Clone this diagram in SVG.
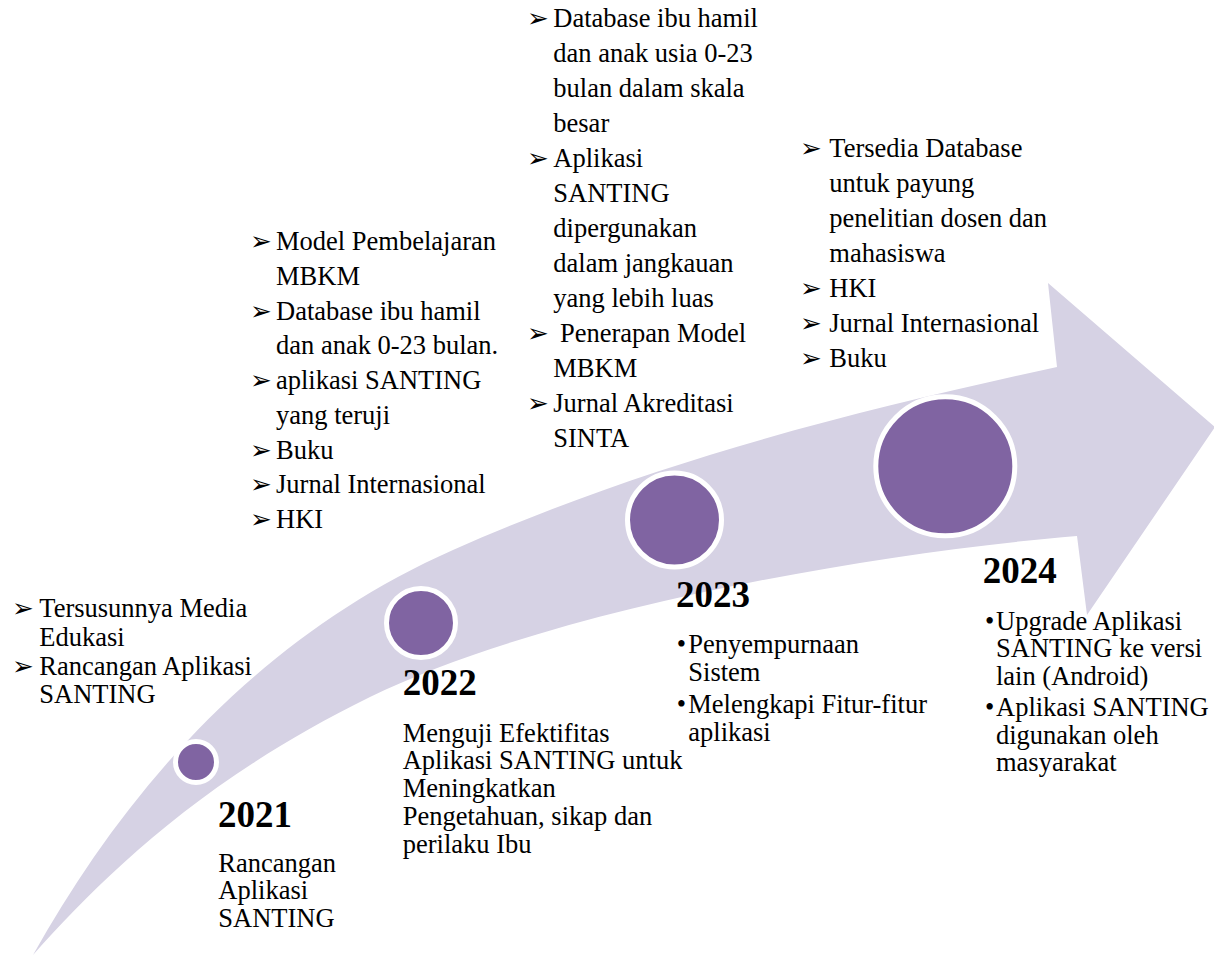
<svg xmlns="http://www.w3.org/2000/svg" width="1214" height="955" viewBox="0 0 1214 955">
<style>
.t{font-family:"Liberation Serif","Times New Roman",serif;font-size:26.5px;fill:#000}
.y{font-family:"Liberation Serif","Times New Roman",serif;font-size:37px;font-weight:bold;fill:#000}
.b{font-family:"DejaVu Sans",sans-serif;font-size:26px}
.c{fill:#8064A2;stroke:#ffffff;stroke-width:5}
</style>
<rect width="1214" height="955" fill="#ffffff"/>
<g id="arrow">
<path d="M33,955 C120,800 250,640 453,550 S860,410 1057,367 L1048,283 L1215,427 L1087,615 L1077,536 C850,555 540,614 370,697 C200,780 100,880 33,955 Z" fill="#D6D2E4"/>
</g>
<g id="connectors"></g>
<g id="m2021">
<circle class="c" cx="196" cy="762" r="20.5"/>
<text class="y" x="218" y="826.7">2021</text>
<text class="t"><tspan x="218.3" y="871.7">Rancangan</tspan><tspan x="218.3" y="899.2">Aplikasi</tspan><tspan x="218.3" y="926.7">SANTING</tspan></text>
<text class="t"><tspan class="b" x="12" y="617.3">➢</tspan><tspan x="39.3" y="617.3">Tersusunnya Media</tspan><tspan x="39.3" y="645.9">Edukasi</tspan><tspan class="b" x="12" y="674.6">➢</tspan><tspan x="39.3" y="674.6">Rancangan Aplikasi</tspan><tspan x="39.3" y="703.3">SANTING</tspan></text>
</g>
<g id="m2022">
<circle class="c" cx="421" cy="623" r="34.5"/>
<text class="y" x="402.7" y="695">2022</text>
<text class="t"><tspan x="402.7" y="741.7">Menguji Efektifitas</tspan><tspan x="402.7" y="769.4">Aplikasi SANTING untuk</tspan><tspan x="402.7" y="797.1">Meningkatkan</tspan><tspan x="402.7" y="824.8">Pengetahuan, sikap dan</tspan><tspan x="402.7" y="852.5">perilaku Ibu</tspan></text>
<text class="t"><tspan class="b" x="250" y="250">➢</tspan><tspan x="276" y="250">Model Pembelajaran</tspan><tspan x="276" y="284.75">MBKM</tspan><tspan class="b" x="250" y="319.5">➢</tspan><tspan x="276" y="319.5">Database ibu hamil</tspan><tspan x="276" y="354.25">dan anak 0-23 bulan.</tspan><tspan class="b" x="250" y="389">➢</tspan><tspan x="276" y="389">aplikasi SANTING</tspan><tspan x="276" y="423.75">yang teruji</tspan><tspan class="b" x="250" y="458.5">➢</tspan><tspan x="276" y="458.5">Buku</tspan><tspan class="b" x="250" y="493.25">➢</tspan><tspan x="276" y="493.25">Jurnal Internasional</tspan><tspan class="b" x="250" y="528">➢</tspan><tspan x="276" y="528">HKI</tspan></text>
</g>
<g id="m2023">
<circle class="c" cx="674.5" cy="520" r="47"/>
<text class="y" x="676" y="606.7">2023</text>
<text class="t"><tspan x="676.7" y="653">•</tspan><tspan x="688.3" y="653">Penyempurnaan</tspan><tspan x="688.3" y="680.5">Sistem</tspan><tspan x="676.7" y="713">•</tspan><tspan x="688.3" y="713">Melengkapi Fitur-fitur</tspan><tspan x="688.3" y="740.5">aplikasi</tspan></text>
<text class="t"><tspan class="b" x="527" y="26.7">➢</tspan><tspan x="553.3" y="26.7">Database ibu hamil</tspan><tspan x="553.3" y="61.7">dan anak usia 0-23</tspan><tspan x="553.3" y="96.7">bulan dalam skala</tspan><tspan x="553.3" y="131.7">besar</tspan><tspan class="b" x="527" y="166.7">➢</tspan><tspan x="553.3" y="166.7">Aplikasi</tspan><tspan x="553.3" y="201.7">SANTING</tspan><tspan x="553.3" y="236.7">dipergunakan</tspan><tspan x="553.3" y="271.7">dalam jangkauan</tspan><tspan x="553.3" y="306.7">yang lebih luas</tspan><tspan class="b" x="527" y="341.7">➢</tspan><tspan x="560" y="341.7">Penerapan Model</tspan><tspan x="553.3" y="376.7">MBKM</tspan><tspan class="b" x="527" y="411.7">➢</tspan><tspan x="553.3" y="411.7">Jurnal Akreditasi</tspan><tspan x="553.3" y="446.7">SINTA</tspan></text>
</g>
<g id="m2024">
<circle class="c" cx="945.3" cy="466.3" r="69.5"/>
<text class="y" x="982.7" y="583.3">2024</text>
<text class="t"><tspan x="985" y="629.5">•</tspan><tspan x="996" y="629.5">Upgrade Aplikasi</tspan><tspan x="996" y="657">SANTING ke versi</tspan><tspan x="996" y="684.5">lain (Android)</tspan><tspan x="985" y="716">•</tspan><tspan x="996" y="716">Aplikasi SANTING</tspan><tspan x="996" y="743.5">digunakan oleh</tspan><tspan x="996" y="771">masyarakat</tspan></text>
<text class="t"><tspan class="b" x="800" y="156.7">➢</tspan><tspan x="829.3" y="156.7">Tersedia Database</tspan><tspan x="829.3" y="191.7">untuk payung</tspan><tspan x="829.3" y="226.7">penelitian dosen dan</tspan><tspan x="829.3" y="261.7">mahasiswa</tspan><tspan class="b" x="800" y="296.7">➢</tspan><tspan x="829.3" y="296.7">HKI</tspan><tspan class="b" x="800" y="331.7">➢</tspan><tspan x="829.3" y="331.7">Jurnal Internasional</tspan><tspan class="b" x="800" y="366.7">➢</tspan><tspan x="829.3" y="366.7">Buku</tspan></text>
</g>
</svg>
